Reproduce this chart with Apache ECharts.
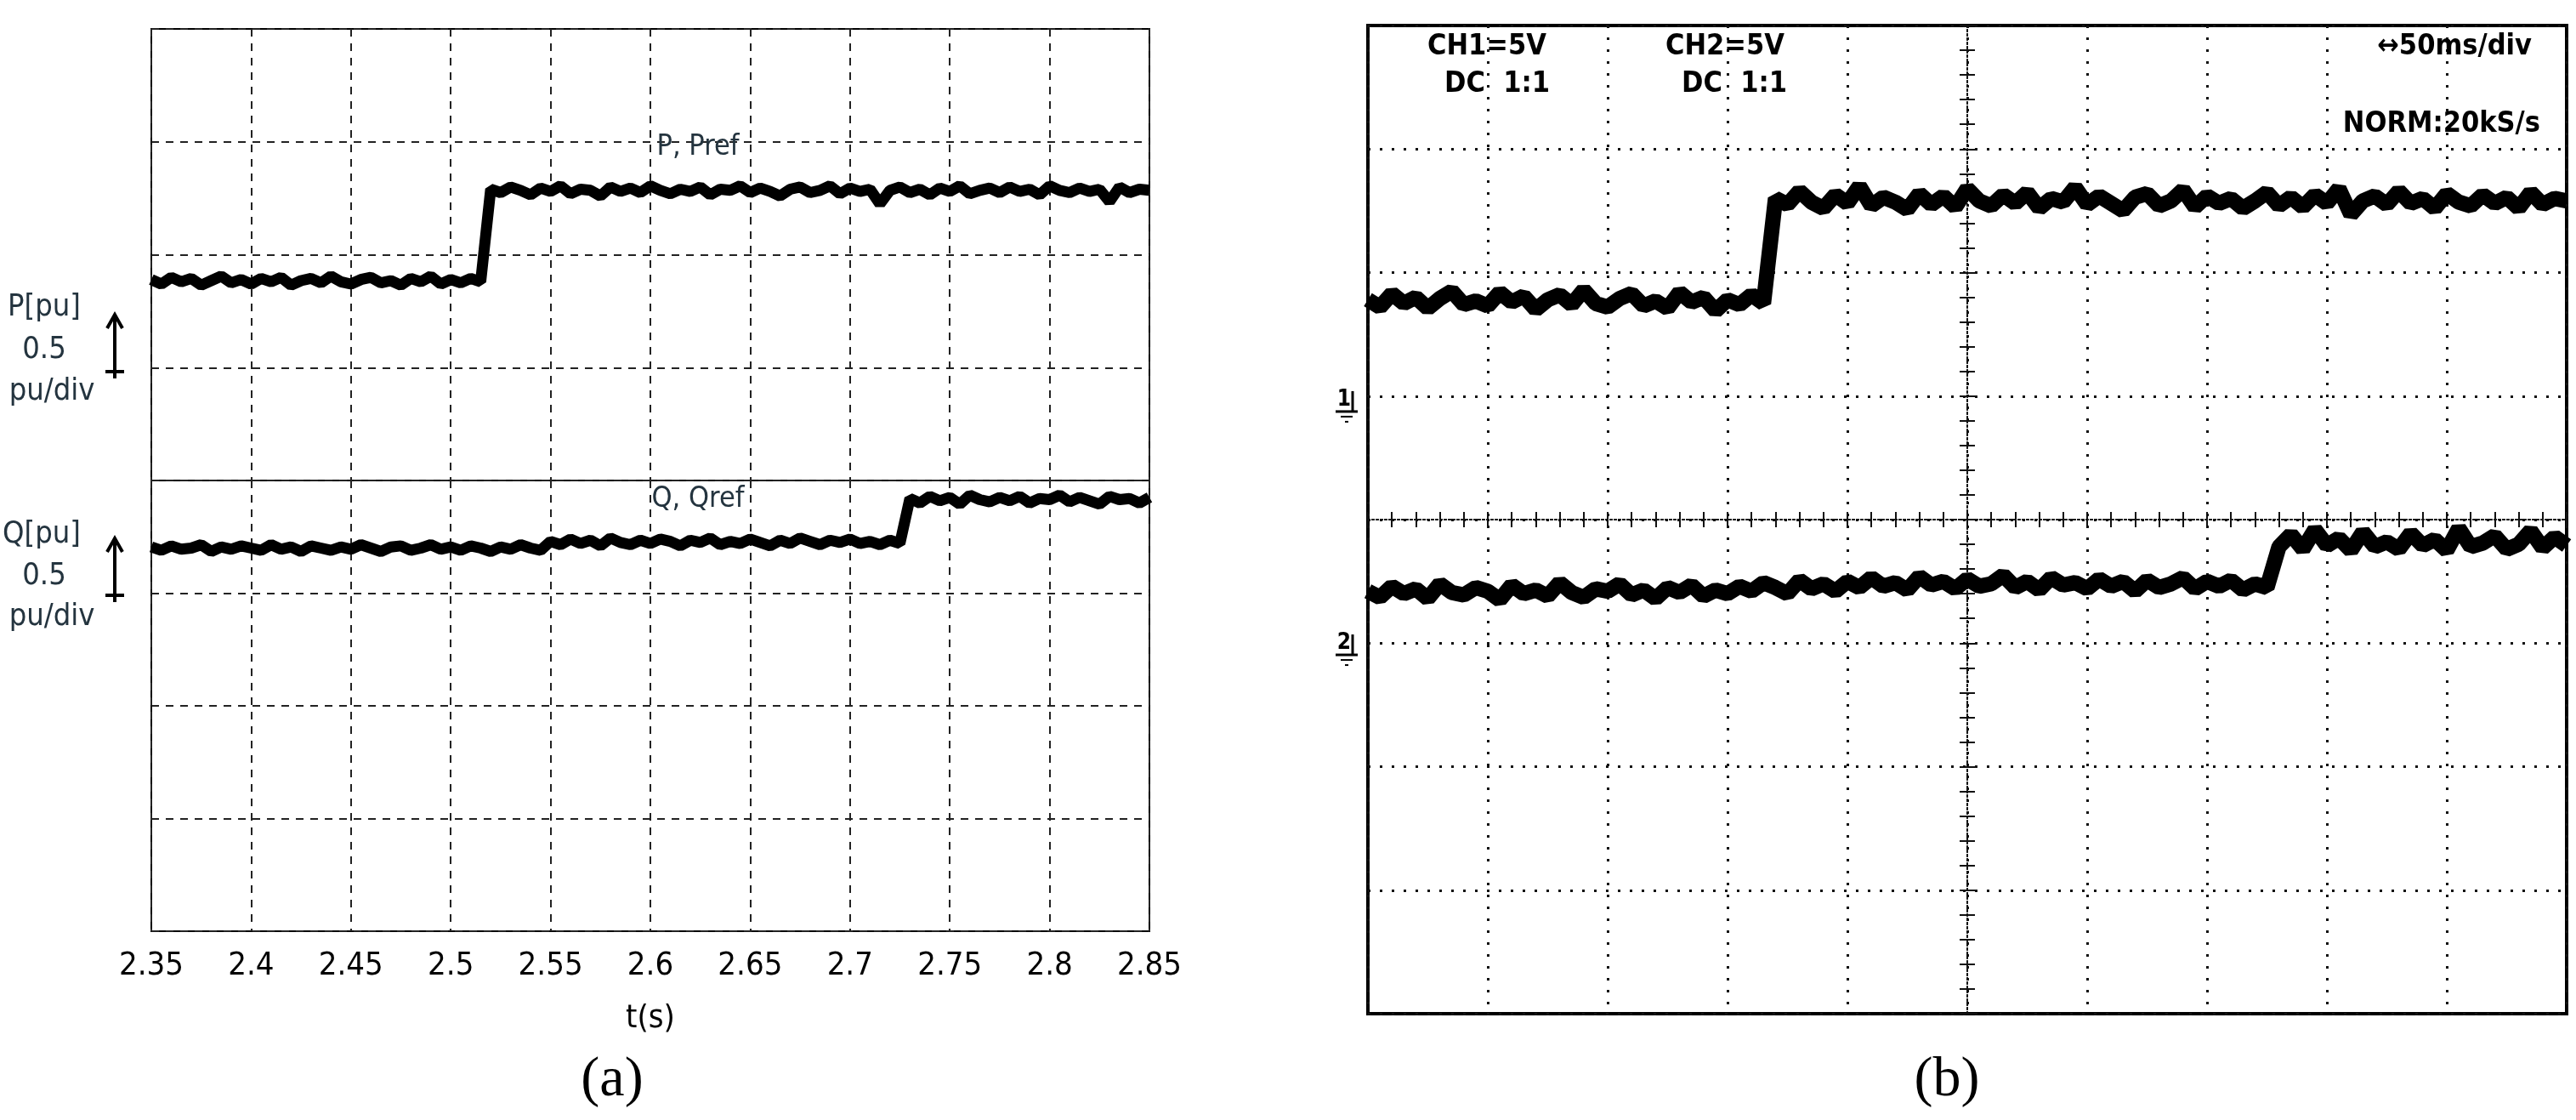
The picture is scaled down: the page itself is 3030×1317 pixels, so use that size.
<!DOCTYPE html>
<html>
<head>
<meta charset="utf-8">
<script src="https://cdn.jsdelivr.net/npm/echarts@6/dist/echarts.min.js"></script>
<style>
  html, body { margin: 0; background: #fff; }
  #chart { width: 3030px; height: 1317px; }
</style>
</head>
<body>
<div id="chart"></div>
<script>
// ---- (a) simulation, y in divisions (0..8), sampled every 5 ms ----
const simStart = 2.35;
const simStep = 0.005;

// P before step: 2.350 .. 2.515
const pLow = [5.78,5.74,5.80,5.76,5.79,5.73,5.77,5.81,5.75,5.78,
  5.74,5.79,5.76,5.80,5.73,5.77,5.79,5.75,5.81,5.76,
  5.74,5.78,5.80,5.75,5.77,5.73,5.79,5.76,5.81,5.74,
  5.78,5.75,5.79,5.76];
// P after step: 2.520 .. 2.850
const pHigh = [6.58,6.55,6.60,6.57,6.53,6.59,6.56,6.61,6.54,6.58,
  6.57,6.52,6.60,6.56,6.59,6.55,6.61,6.57,6.54,6.58,
  6.56,6.60,6.53,6.58,6.57,6.61,6.55,6.59,6.56,6.52,
  6.58,6.60,6.55,6.57,6.61,6.54,6.59,6.56,6.58,6.45,
  6.57,6.60,6.55,6.58,6.53,6.59,6.56,6.61,6.54,6.57,
  6.59,6.55,6.60,6.56,6.58,6.53,6.61,6.57,6.55,6.59,
  6.56,6.58,6.47,6.60,6.55,6.58,6.57];
// Q before step: 2.350 .. 2.725
const qLow = [3.41,3.38,3.42,3.39,3.40,3.43,3.37,3.41,3.39,3.42,
  3.40,3.38,3.43,3.39,3.41,3.37,3.42,3.40,3.38,3.41,
  3.39,3.43,3.40,3.37,3.41,3.42,3.38,3.40,3.43,3.39,
  3.41,3.38,3.42,3.40,3.37,3.41,3.39,3.43,3.40,3.38,
  3.46,3.43,3.48,3.44,3.47,3.42,3.49,3.45,3.43,3.47,
  3.44,3.48,3.46,3.42,3.47,3.45,3.49,3.43,3.46,3.44,
  3.48,3.45,3.42,3.47,3.44,3.49,3.46,3.43,3.47,3.45,
  3.48,3.44,3.46,3.43,3.47,3.44];
// Q after step: 2.730 .. 2.850
const qHigh = [3.84,3.80,3.86,3.82,3.85,3.79,3.87,3.83,3.81,3.85,
  3.82,3.86,3.80,3.84,3.83,3.87,3.81,3.85,3.82,3.79,
  3.86,3.83,3.84,3.80,3.85];

// ---- (b) oscilloscope, in divisions (x -5..5, y -4..4), every 0.1 div ----
const scopeStart = -5;
const scopeStep = 0.1;
const ch1Low = [1.78,1.72,1.83,1.75,1.80,1.71,1.79,1.85,1.74,1.77,
  1.73,1.84,1.76,1.81,1.70,1.78,1.82,1.74,1.86,1.75,
  1.72,1.79,1.83,1.73,1.77,1.71,1.84,1.76,1.80,1.69,
  1.78,1.74,1.82,1.75];
const ch1High = [2.60,2.55,2.66,2.57,2.52,2.63,2.56,2.70,2.54,2.61,
  2.57,2.51,2.64,2.55,2.62,2.53,2.68,2.58,2.54,2.63,
  2.56,2.65,2.52,2.60,2.57,2.69,2.55,2.62,2.56,2.50,
  2.61,2.64,2.54,2.58,2.67,2.53,2.62,2.56,2.60,2.52,
  2.58,2.65,2.54,2.61,2.53,2.63,2.56,2.68,2.47,2.58,
  2.62,2.55,2.66,2.56,2.60,2.52,2.64,2.57,2.54,2.63,
  2.56,2.61,2.52,2.65,2.55,2.60,2.58];
const ch2Low = [-0.58,-0.63,-0.54,-0.60,-0.56,-0.64,-0.52,-0.59,-0.61,-0.55,
  -0.58,-0.65,-0.53,-0.60,-0.57,-0.62,-0.51,-0.59,-0.63,-0.56,
  -0.58,-0.52,-0.61,-0.57,-0.64,-0.55,-0.59,-0.53,-0.62,-0.57,
  -0.60,-0.54,-0.58,-0.51,-0.55,-0.60,-0.49,-0.56,-0.52,-0.58,
  -0.50,-0.55,-0.47,-0.54,-0.51,-0.57,-0.46,-0.53,-0.50,-0.56,
  -0.48,-0.54,-0.52,-0.45,-0.55,-0.50,-0.57,-0.47,-0.53,-0.51,
  -0.56,-0.48,-0.54,-0.50,-0.58,-0.49,-0.55,-0.52,-0.47,-0.56,
  -0.50,-0.54,-0.49,-0.57,-0.52,-0.55];
const ch2High = [-0.22,-0.12,-0.24,-0.08,-0.21,-0.15,-0.25,-0.10,-0.22,-0.18,
  -0.24,-0.11,-0.21,-0.16,-0.25,-0.07,-0.22,-0.19,-0.13,-0.24,
  -0.20,-0.09,-0.23,-0.14,-0.21];
// channel ground markers (channel, level in divisions)
const groundMarks = [[1, 0.93], [2, -1.04]];

const build = (t0, dt, vals) => vals.map((v, i) => [+(t0 + i * dt).toFixed(4), v]);
const pData = build(simStart, simStep, pLow).concat(build(2.52, simStep, pHigh));
const qData = build(simStart, simStep, qLow).concat(build(2.73, simStep, qHigh));
const ch1Data = build(scopeStart, scopeStep, ch1Low).concat(build(-1.6, scopeStep, ch1High));
const ch2Data = build(scopeStart, scopeStep, ch2Low).concat(build(2.6, scopeStep, ch2High));

const chart = echarts.init(document.getElementById('chart'));
const narrow = '"DejaVu Sans Condensed", "Liberation Sans Narrow", "Liberation Sans", sans-serif';
const labelColor = '#24343f';
const dashed = { color: '#222', width: 2, type: [9, 8] };
const dotted = { color: '#111', width: 3, type: [3, 11] };

const simX = (show) => ({
  type: 'value', min: 2.35, max: 2.85, interval: 0.05,
  axisLine: { show: false }, axisTick: { show: false },
  axisLabel: { show: show, fontFamily: narrow, fontSize: 38, color: '#000', margin: 22,
    formatter: v => String(+v.toFixed(2)) },
  splitLine: { lineStyle: dashed },
  name: show ? 't(s)' : '', nameLocation: 'middle', nameGap: 84,
  nameTextStyle: { fontFamily: narrow, fontSize: 38, color: '#000' }
});
const simY = (min, max) => ({
  type: 'value', min: min, max: max, interval: 1,
  axisLine: { show: false }, axisTick: { show: false }, axisLabel: { show: false },
  splitLine: { lineStyle: dashed }
});
const scopeAxis = (min, max, pos, splits) => ({
  type: 'value', min: min, max: max, interval: 1, position: pos,
  axisLine: { onZero: true, lineStyle: { color: '#111', width: 2, type: [2, 3] } },
  axisTick: { show: true, inside: true, length: 9, lineStyle: { color: '#111', width: 2 } },
  minorTick: { show: true, splitNumber: 5, length: 9, lineStyle: { color: '#111', width: 2 } },
  axisLabel: { show: false },
  splitLine: { show: splits, lineStyle: dotted }
});

const lineSeries = (data, xi, yi, width) => ({
  type: 'line', data: data, xAxisIndex: xi, yAxisIndex: yi,
  showSymbol: false, symbol: 'none', animation: false,
  lineStyle: { color: '#000', width: width }
});

const txt = (x, y, text, size, extra) => ({
  type: 'text', x: x, y: y,
  style: Object.assign({ text: text, font: size + 'px ' + narrow, fill: labelColor,
    textAlign: 'center', textVerticalAlign: 'middle' }, extra || {})
});
const arrow = (x, y1, y2) => ({
  type: 'group', children: [
    { type: 'line', shape: { x1: x, y1: y1, x2: x, y2: y2 }, style: { stroke: '#000', lineWidth: 4 } },
    { type: 'polyline', shape: { points: [[x - 9, y1 + 16], [x, y1], [x + 9, y1 + 16]] }, style: { stroke: '#000', lineWidth: 4, fill: null } },
    { type: 'line', shape: { x1: x - 11, y1: y2 - 8, x2: x + 11, y2: y2 - 8 }, style: { stroke: '#000', lineWidth: 4 } }
  ]
});
const scopeTxt = (x, y, text, align) => ({
  type: 'text', x: x, y: y,
  style: { text: text, font: 'bold 34px ' + narrow, fill: '#000', textAlign: align, textVerticalAlign: 'middle' }
});
const serif = '66px "Liberation Serif", "DejaVu Serif", serif';

chart.setOption({
  backgroundColor: '#fff',
  animation: false,
  grid: [
    { left: 178, width: 1174, top: 34, height: 531, show: true, borderColor: '#000', borderWidth: 2 },
    { left: 178, width: 1174, top: 565, height: 530, show: true, borderColor: '#000', borderWidth: 2 },
    { left: 1609, width: 1410, top: 30, height: 1162, show: true, borderColor: '#000', borderWidth: 4 }
  ],
  xAxis: [
    Object.assign(simX(false), { gridIndex: 0 }),
    Object.assign(simX(true), { gridIndex: 1 }),
    Object.assign(scopeAxis(-5, 5, 'bottom', true), { gridIndex: 2 }),
    Object.assign(scopeAxis(-5, 5, 'top', false), { gridIndex: 2 })
  ],
  yAxis: [
    Object.assign(simY(4, 8), { gridIndex: 0 }),
    Object.assign(simY(0, 4), { gridIndex: 1 }),
    Object.assign(scopeAxis(-4, 4, 'left', true), { gridIndex: 2 }),
    Object.assign(scopeAxis(-4, 4, 'right', false), { gridIndex: 2 })
  ],
  series: [
    lineSeries(pData, 0, 0, 13),
    lineSeries(qData, 1, 1, 13),
    lineSeries(ch1Data, 2, 2, 18),
    lineSeries(ch2Data, 2, 2, 18)
  ]
});

// channel ground markers on the left edge of the scope screen
const marks = groundMarks.map(([ch, y]) => {
  const p = chart.convertToPixel({ gridIndex: 2 }, [-5, y]);
  const x = p[0] - 20, yy = p[1];
  return {
    type: 'group', children: [
      { type: 'text', x: x - 8, y: yy - 6, style: { text: String(ch), font: 'bold 26px ' + narrow, fill: '#000', textAlign: 'center', textVerticalAlign: 'middle' } },
      { type: 'line', shape: { x1: x - 18, y1: yy + 8, x2: x + 8, y2: yy + 8 }, style: { stroke: '#000', lineWidth: 3 } },
      { type: 'line', shape: { x1: x + 2, y1: yy - 16, x2: x + 2, y2: yy + 8 }, style: { stroke: '#000', lineWidth: 3 } },
      { type: 'line', shape: { x1: x - 12, y1: yy + 14, x2: x + 2, y2: yy + 14 }, style: { stroke: '#000', lineWidth: 2 } },
      { type: 'line', shape: { x1: x - 7, y1: yy + 20, x2: x - 3, y2: yy + 20 }, style: { stroke: '#000', lineWidth: 2 } }
    ]
  };
});

chart.setOption({
  graphic: [
    txt(821, 173, 'P, Pref', 34),
    txt(821, 587, 'Q, Qref', 34),
    txt(52, 362, 'P[pu]', 36), txt(52, 412, '0.5', 36), txt(61, 461, 'pu/div', 36),
    txt(49, 629, 'Q[pu]', 36), txt(52, 678, '0.5', 36), txt(61, 726, 'pu/div', 36),
    arrow(135, 370, 445), arrow(135, 633, 708),
    txt(720, 1271, '(a)', 66, { font: serif, fill: '#000' }),
    txt(2290, 1271, '(b)', 66, { font: serif, fill: '#000' }),
    scopeTxt(1749, 55, 'CH1=5V', 'center'), scopeTxt(1761, 99, 'DC  1:1', 'center'),
    scopeTxt(2029, 55, 'CH2=5V', 'center'), scopeTxt(2040, 99, 'DC  1:1', 'center'),
    scopeTxt(2978, 55, '\u219450ms/div', 'right'),
    scopeTxt(2988, 146, 'NORM:20kS/s', 'right')
  ].concat(marks)
});
</script>
</body>
</html>
